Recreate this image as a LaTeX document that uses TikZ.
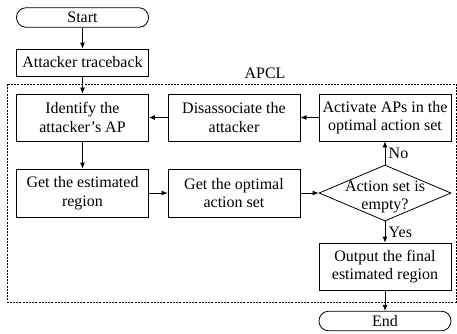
\documentclass[tikz,border=0pt]{standalone}
\usepackage{fontspec}
\setmainfont{Liberation Serif}
\usetikzlibrary{shapes.geometric,arrows.meta}

\begin{document}
\begin{tikzpicture}[x=1pt,y=-1pt,
        font=\fontsize{16}{18.5}\selectfont,
        box/.style={draw,line width=0.8pt,align=center,minimum width=132pt,minimum height=47pt,inner sep=0pt},
        term/.style={draw,line width=0.8pt,rounded corners=9.5pt,minimum width=132pt,minimum height=19.5pt,inner sep=0pt},
        cond/.style={draw,diamond,line width=0.8pt,minimum width=132pt,minimum height=56pt,inner sep=0pt},
        flow/.style={line width=0.8pt,-{Latex[length=6pt,width=5pt]}}]
            \useasboundingbox (0,0) rectangle (457,333);
            \draw[line width=0.7pt,dash pattern=on 2pt off 1.2pt] (7,84) rectangle (456,302);
            \node (apcl) at (265,73) {APCL};

            \node[term] (start) at (82.5,17.5) {Start};
            \node[box,minimum height=27pt] (trace) at (82.5,62.5) {Attacker traceback};
            \node[box] (ident) at (82.5,117.5) {Identify the\\attacker's AP};
            \node[box] (disas) at (234,117.5) {Disassociate the\\attacker};
            \node[box] (activ) at (385,117.5) {Activate APs in the\\optimal action set};
            \node[box,minimum height=48pt] (estim) at (82.5,193) {Get the estimated\\region};
            \node[box,minimum height=48pt] (optim) at (234,193) {Get the optimal\\action set};
            \node[cond] (empty) at (385,193) {};
            \node[align=center] (emptytxt) at (385,197) {Action set is\\empty?};
            \node[box] (output) at (385,266.5) {Output the final\\estimated region};
            \node[term] (end) at (385,321) {End};

            \draw[flow] (start) -- (trace);
            \draw[flow] (trace) -- (ident);
            \draw[flow] (ident) -- (estim);
            \draw[flow] (estim) -- (optim);
            \draw[flow] (optim) -- (empty.west);
            \draw[flow] (empty.north) -- node[right] {No} (activ);
            \draw[flow] (activ) -- (disas);
            \draw[flow] (disas) -- (ident);
            \draw[flow] (empty.south) -- node[right] {Yes} (output);
            \draw[flow] (output) -- (end);
        \end{tikzpicture}
\end{document}
